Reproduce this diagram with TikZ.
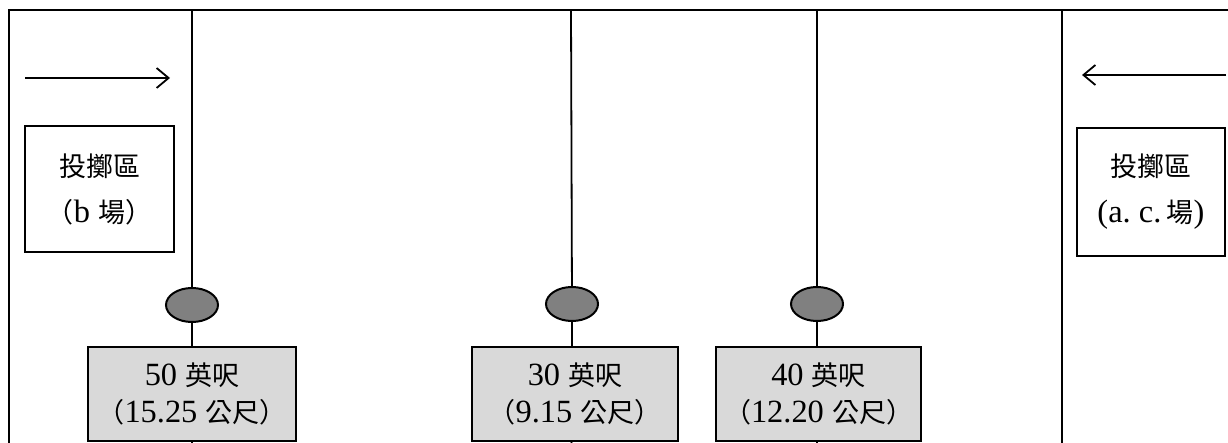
\documentclass[tikz,border=0pt]{standalone}
\usepackage{fontspec}
\setmainfont{Liberation Serif}[Scale=1.2]
\newfontfamily\cjkfont{Noto Sans CJK TC}
\newcommand{\zh}[1]{{\cjkfont #1}}
\usetikzlibrary{arrows.meta,shapes.geometric}
\begin{document}
\begin{tikzpicture}[x=1pt,y=-1pt,
  ln/.style={line width=1.8pt},
  zonebox/.style={draw, line width=2pt, align=center, inner sep=0pt,
    font=\fontsize{27}{46}\selectfont},
  distbox/.style={draw, line width=2.2pt, fill=black!15, align=center, inner sep=0pt,
    minimum height=94, font=\fontsize{27}{37}\selectfont},
  stake/.style={draw, ellipse, line width=2pt, fill=black!50, minimum width=52, minimum height=34, inner sep=0pt},
  dirarrow/.style={line width=1.8pt, -{Straight Barb[length=12pt,width=20pt,line width=1.8pt]}}
]
\useasboundingbox (0,0) rectangle (1228,443);
% frame
\coordinate (tl) at (8,10);
\coordinate (tr) at (1228,10);
\coordinate (bl) at (9,443);
\draw[ln] (tl) -- (tr);
\draw[ln] (9,10) coordinate (ltop) -- (bl);
\coordinate (rtop) at (1062,10);
\coordinate (rbot) at (1062,443);
\draw[ln] (rtop) -- (rbot);

% poles
\coordinate (t1) at (192,10);  \coordinate (b1) at (192,443);
\coordinate (t2) at (571,10);  \coordinate (b2) at (571,443);
\coordinate (t3) at (817,10);  \coordinate (b3) at (817,443);

\node[stake] (e1) at (192,305) {};
\node[stake] (e2) at (572,304) {};
\node[stake] (e3) at (817,304) {};

\node[distbox, minimum width=208] (g1) at (192,394) {50 \zh{英呎}\\\zh{（}15.25 \zh{公尺）}};
\node[distbox, minimum width=206] (g2) at (575,394) {30 \zh{英呎}\\\zh{（}9.15 \zh{公尺）}};
\node[distbox, minimum width=205] (g3) at (818.5,394) {40 \zh{英呎}\\\zh{（}12.20 \zh{公尺）}};

\draw[ln] (t1) -- (e1); \draw[ln] (e1) -- (g1); \draw[ln] (g1) -- (b1);
\draw[ln] (t2) -- (e2); \draw[ln] (e2) -- (g2.north -| e2); \draw[ln] (g2.south -| e2) -- (b2);
\draw[ln] (t3) -- (e3); \draw[ln] (e3) -- (g3.north -| e3); \draw[ln] (g3.south -| e3) -- (b3);

% throwing zones
\node[zonebox, minimum width=149, minimum height=126] (zb) at (99.5,189) {\zh{投擲區}\\\zh{（}b \zh{場）}};
\node[zonebox, minimum width=148, minimum height=128] (zac) at (1151,192) {\zh{投擲區}\\(a.~c.\,\zh{場})};

% arrows
\coordinate (a1s) at (25,78);  \coordinate (a1e) at (170,78);
\coordinate (a2s) at (1226,75); \coordinate (a2e) at (1082,75);
\draw[dirarrow] (a1s) -- (a1e);
\draw[dirarrow] (a2s) -- (a2e);
\end{tikzpicture}
\end{document}
